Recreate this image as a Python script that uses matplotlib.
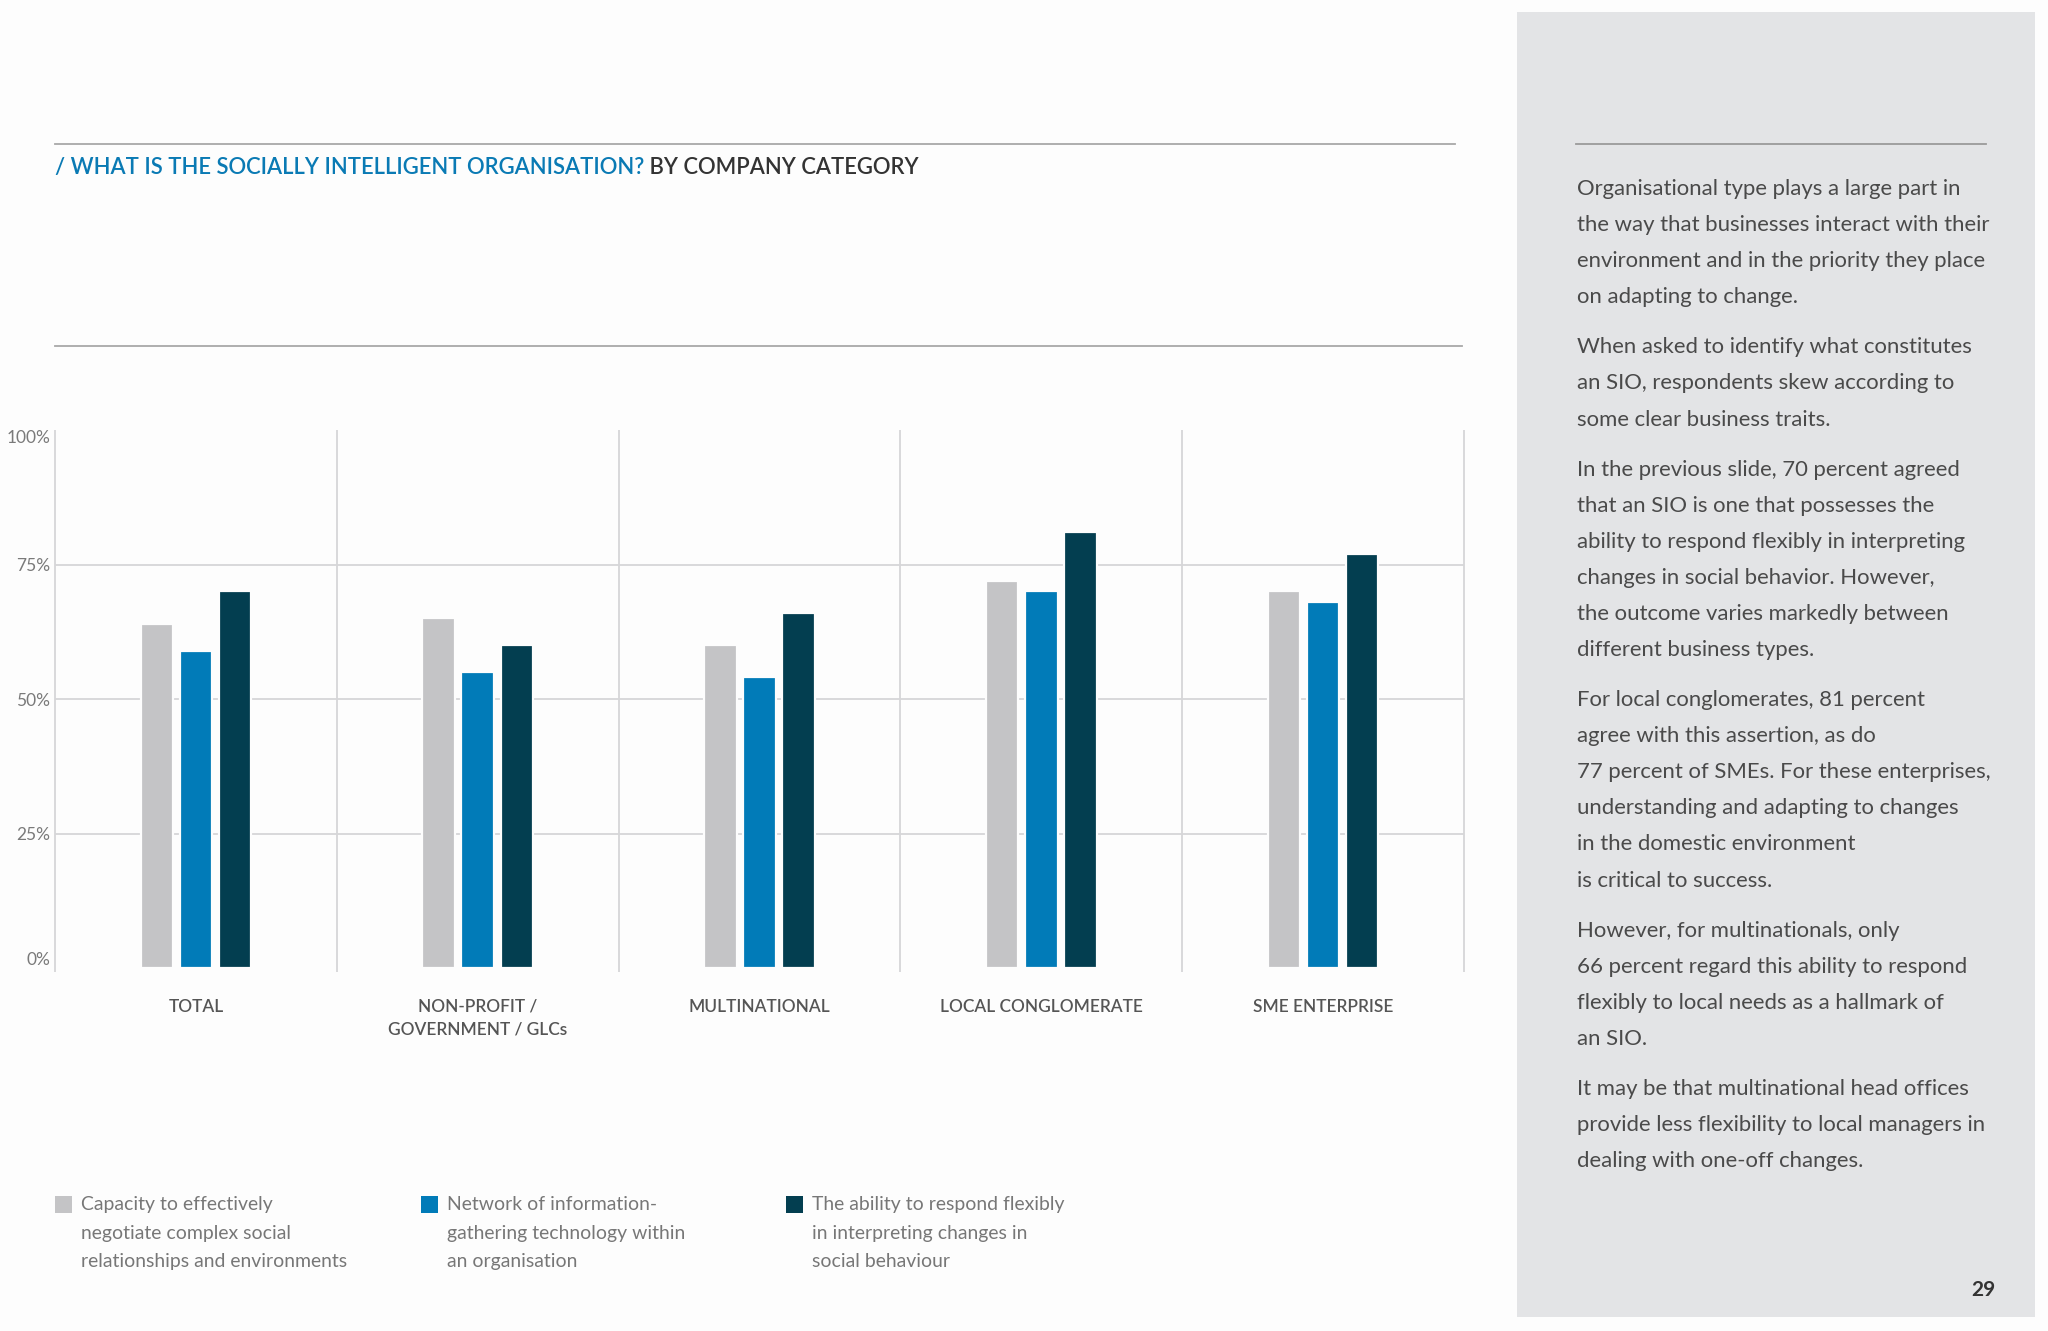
"""
Socially intelligent organisation by company category - bar chart slide
"""
import matplotlib
matplotlib.use('Agg')
import matplotlib.pyplot as plt
import matplotlib.patches as mpatches
import numpy as np

# Data
categories = ['TOTAL', 'NON-PROFIT /\nGOVERNMENT / GLCs', 'MULTINATIONAL',
              'LOCAL CONGLOMERATE', 'SME ENTERPRISE']
capacity = [64, 65, 60, 72, 70]
network = [59, 55, 54, 70, 68]
ability = [70, 60, 66, 81, 77]
series_labels = [
    'Capacity to effectively\nnegotiate complex social\nrelationships and environments',
    'Network of information-\ngathering technology within\nan organisation',
    'The ability to respond flexibly\nin interpreting changes in\nsocial behaviour',
]
ytick_vals = [0, 25, 50, 75, 100]
title_blue = '/ WHAT IS THE SOCIALLY INTELLIGENT ORGANISATION?'
title_dark = ' BY COMPANY CATEGORY'
paragraphs = [
    ['Organisational type plays a large part in',
     'the way that businesses interact with their',
     'environment and in the priority they place',
     'on adapting to change.'],
    ['When asked to identify what constitutes',
     'an SIO, respondents skew according to',
     'some clear business traits.'],
    ['In the previous slide, 70 percent agreed',
     'that an SIO is one that possesses the',
     'ability to respond flexibly in interpreting',
     'changes in social behavior. However,',
     'the outcome varies markedly between',
     'different business types.'],
    ['For local conglomerates, 81 percent',
     'agree with this assertion, as do',
     '77 percent of SMEs. For these enterprises,',
     'understanding and adapting to changes',
     'in the domestic environment',
     'is critical to success.'],
    ['However, for multinationals, only',
     '66 percent regard this ability to respond',
     'flexibly to local needs as a hallmark of',
     'an SIO.'],
    ['It may be that multinational head offices',
     'provide less flexibility to local managers in',
     'dealing with one-off changes.'],
]
page_number = '29'

# Style
W, H, DPI = 2048, 1331, 100
BG = '#fdfdfd'
PANEL = '#e3e4e6'
COLORS = ['#c4c4c6', '#017bb8', '#033e50']
TITLE_BLUE = '#0a7ab4'
DARK = '#333333'
GRID = '#d6d6d8'
FONT = 'Lato'

fig = plt.figure(figsize=(W / DPI, H / DPI), dpi=DPI, facecolor=BG)
renderer = fig.canvas.get_renderer()


def fx(x):
    return x / W


def fy(y):
    # pixel from top -> figure fraction
    return 1 - y / H


def fit_size(txt, target_w, base=20, **kw):
    t = fig.text(0, 0, txt, fontsize=base, family=FONT, **kw)
    w = t.get_window_extent(renderer).width
    t.remove()
    return base * target_w / w


# Right-hand grey panel
fig.patches.append(mpatches.Rectangle((fx(1517), fy(1317)), fx(2035 - 1517), (1317 - 12) / H,
                                      transform=fig.transFigure, facecolor=PANEL,
                                      edgecolor='none', zorder=0))

# Horizontal rules
fig.add_artist(plt.Line2D([fx(55), fx(1455)], [fy(144), fy(144)], color='#a8a8a8', lw=1.3))
fig.add_artist(plt.Line2D([fx(55), fx(1462)], [fy(346), fy(346)], color='#a8a8a8', lw=1.3))
fig.add_artist(plt.Line2D([fx(1576), fx(1986)], [fy(144), fy(144)], color='#9a9a9a', lw=1.3))

# Title (two colours)
ts = fit_size(title_blue + title_dark, 860, weight='semibold')
t1 = fig.text(fx(55), fy(174), title_blue, fontsize=ts, family=FONT, weight='semibold',
              color=TITLE_BLUE, va='baseline')
w1 = t1.get_window_extent(renderer).width
fig.text(fx(55 + w1), fy(174), title_dark, fontsize=ts, family=FONT, weight='semibold',
         color=DARK, va='baseline')

# Chart
ax = fig.add_axes([fx(55), fy(968), fx(1464 - 55), (968 - 430) / H])
ax.set_facecolor('none')
x = np.arange(len(categories))
width = 0.115
step = 0.139
for i, (vals, col) in enumerate(zip([capacity, network, ability], COLORS)):
    ax.bar(x + (i - 1) * step, vals, width=width, color=col, edgecolor=BG,
           linewidth=1.6, zorder=3)

for v in [25, 50, 75]:
    ax.axhline(v, color=GRID, lw=1.3, zorder=1)
ax.vlines(np.arange(len(categories) + 1) - 0.5, -0.8, 100, color=GRID, lw=1.3,
          zorder=1, clip_on=False)

ax.set_xlim(-0.5, len(categories) - 0.5)
ax.set_ylim(0, 100)
for s in ax.spines.values():
    s.set_visible(False)

ax.set_yticks(ytick_vals)
ax.set_yticklabels([f'{v}%' for v in ytick_vals])
ax.tick_params(axis='y', length=0, pad=3.5, labelsize=12.5, labelcolor='#7a7a7a')
ylabs = ax.get_yticklabels()
for lab in ylabs:
    lab.set_family(FONT)
ylabs[0].set_va('bottom')
ylabs[-1].set_va('top')

cs = fit_size('LOCAL CONGLOMERATE', 202, weight='semibold')
ax.set_xticks(x)
ax.set_xticklabels(categories)
ax.tick_params(axis='x', length=0, pad=22, labelsize=cs, labelcolor='#555555')
for lab in ax.get_xticklabels():
    lab.set_family(FONT)
    lab.set_weight('semibold')
    lab.set_linespacing(1.5)

# Legend
ls = fit_size('relationships and environments', 268)
for sq_x, txt, col in zip([55, 421, 786], series_labels, COLORS):
    fig.patches.append(mpatches.Rectangle((fx(sq_x), fy(1213)), fx(17), 17 / H,
                                          transform=fig.transFigure, facecolor=col,
                                          edgecolor='none'))
    fig.text(fx(sq_x + 26), fy(1196), txt, fontsize=ls, family=FONT, color='#777777',
             va='top', ha='left', linespacing=1.83)

# Side-panel text
ps = fit_size(paragraphs[0][0], 384)
y = 195
for para in paragraphs:
    for line in para:
        fig.text(fx(1577), fy(y), line, fontsize=ps, family=FONT, color='#4a4a4a',
                 va='baseline', ha='left')
        y += 36.1
    y += 50 - 36.1

fig.text(fx(1995), fy(1296), page_number, fontsize=15, family=FONT, weight='bold',
         color=DARK, ha='right', va='baseline')

fig.savefig('out.png', dpi=DPI, facecolor=BG)
